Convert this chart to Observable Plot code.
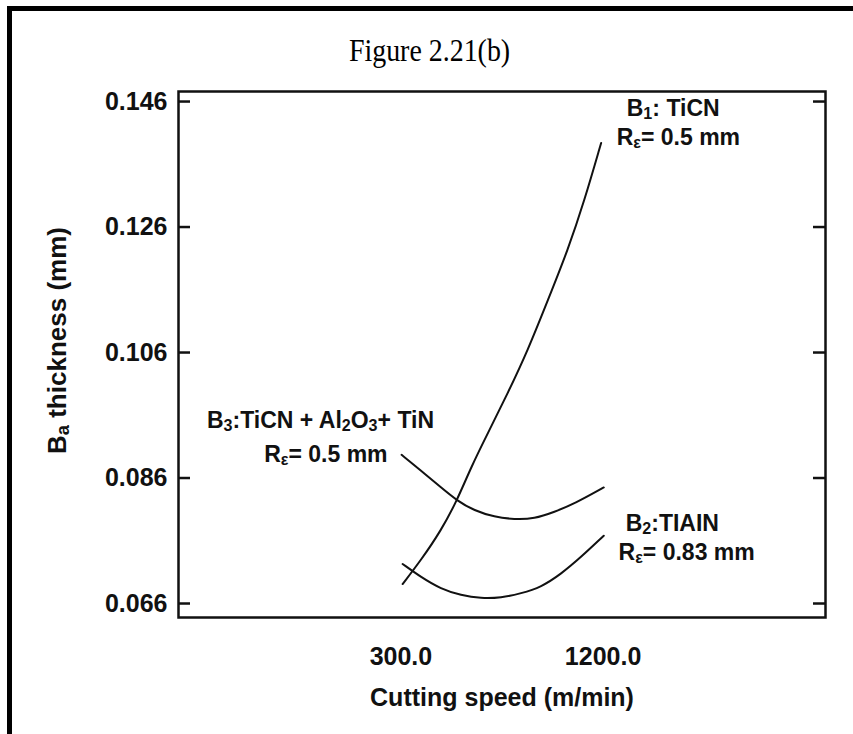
<!DOCTYPE html>
<html><head><meta charset="utf-8">
<script src="https://cdn.jsdelivr.net/npm/d3@7"></script>
<script src="https://cdn.jsdelivr.net/npm/@observablehq/plot@0.6"></script>
<style>
html,body{margin:0;padding:0;background:#fff;overflow:hidden;width:853px;height:734px}
#wrap{position:relative;width:853px;height:734px;overflow:hidden}
#border{position:absolute;left:7px;top:6px;width:900px;height:800px;border-top:5px solid #000;border-left:5px solid #000;pointer-events:none}
#title{height:80px;box-sizing:border-box;padding-top:35px;padding-left:7px;text-align:center;font-family:"Liberation Serif","Times New Roman",serif;font-size:31px;line-height:32px;color:#000}
#title span{display:inline-block;transform:scaleX(0.9)}
#chart svg{display:block}
</style></head>
<body><div id="wrap"><div id="border"></div><div id="title"><span>Figure 2.21(b)</span></div><div id="chart"></div></div>
<script>
// Series B1: TiCN, Rε = 0.5 mm
const speedB1 = [307.6, 389.1, 478.3, 549.6, 611.9, 686.4, 775.5, 864.6, 953.7, 1042.9, 1116.8, 1191.3];
const thickB1 = [0.0691, 0.0729, 0.0776, 0.0824, 0.0877, 0.0931, 0.0995, 0.1063, 0.1143, 0.1223, 0.1302, 0.1394];
// Series B2: TiAlN, Rε = 0.83 mm
const speedB2 = [307.6, 389.1, 478.3, 567.4, 656.5, 745.6, 834.8, 923.9, 1013, 1102.1, 1203];
const thickB2 = [0.0723, 0.0702, 0.0683, 0.0673, 0.0668, 0.0669, 0.0676, 0.0686, 0.0707, 0.0734, 0.0768];
// Series B3: TiCN + Al2O3 + TiN, Rε = 0.5 mm
const speedB3 = [303, 389.1, 478.3, 549.6, 626.6, 715.8, 804.9, 894, 983.2, 1072.3, 1203];
const thickB3 = [0.0897, 0.0872, 0.0845, 0.0824, 0.0808, 0.0798, 0.0794, 0.0795, 0.0806, 0.0819, 0.0845];

const xTicks = [300, 1200];
const yTicks = [0.066, 0.086, 0.106, 0.126, 0.146];

// annotation lines ("_x" marks a subscript character)
const noteText = ["B_1: TiCN", "R_ε= 0.5 mm", "B_2:TIAIN", "R_ε= 0.83 mm", "B_3:TiCN + Al_2O_3+ TiN", "R_ε= 0.5 mm"];
const noteSpeed = [1512, 1535, 1508, 1572, -58, -34];
const noteThick = [0.1449, 0.1403, 0.0788, 0.0741, 0.0952, 0.0897];

const xLabel = "Cutting speed (m/min)";
const yLabel = "B_a thickness (mm)";

const lines = [
  ...speedB1.map((x, i) => ({series: "B1", x, y: thickB1[i]})),
  ...speedB2.map((x, i) => ({series: "B2", x, y: thickB2[i]})),
  ...speedB3.map((x, i) => ({series: "B3", x, y: thickB3[i]}))
];
const notes = noteText.map((t, i) => ({t, x: noteSpeed[i], y: noteThick[i]}));

const W = 853, ML = 178, MR = 28;
const innerW = W - ML - MR;
const tickLen = 12;

const chart = Plot.plot({
  width: W, height: 654,
  marginLeft: ML, marginRight: MR, marginTop: 11, marginBottom: 117,
  x: {domain: [-690, 2190]},
  y: {domain: [0.06377, 0.1476]},
  style: {fontFamily: "'Liberation Sans', Arial, sans-serif", background: "white", color: "#111", fontWeight: "bold"},
  marks: [
    Plot.line(lines, {x: "x", y: "y", z: "series", stroke: "#111", strokeWidth: 2, curve: "basis"}),
    Plot.tickY(yTicks, {y: d => d, insetRight: innerW - tickLen, stroke: "#111", strokeWidth: 2.5}),
    Plot.tickY(yTicks, {y: d => d, insetLeft: innerW - tickLen, stroke: "#111", strokeWidth: 2.5}),
    Plot.frame({stroke: "#111", strokeWidth: 2.5}),
    Plot.axisY({ticks: yTicks, tickSize: 0, tickPadding: 11, tickFormat: d => d.toFixed(3), fontSize: 25, label: null}),
    Plot.axisX({ticks: xTicks, tickSize: 0, tickPadding: 30, tickFormat: d => d.toFixed(1), fontSize: 25, label: null}),
    Plot.text([xLabel], {text: d => d, frameAnchor: "bottom", textAnchor: "middle", lineAnchor: "middle", dy: 80, fontSize: 25}),
    Plot.text([yLabel], {text: d => d, frameAnchor: "left", textAnchor: "middle", lineAnchor: "middle", rotate: -90, dx: -121, dy: -14, fontSize: 26}),
    Plot.text(notes, {x: "x", y: "y", text: "t", fontSize: 23, fill: "#111"})
  ]
});
document.getElementById("chart").appendChild(chart);

// turn "_x" into subscript tspans
const NS = "http://www.w3.org/2000/svg";
chart.querySelectorAll("text").forEach(el => {
  const s = el.textContent;
  if (!s.includes("_") || el.querySelector("tspan")) return;
  const fs = parseFloat(getComputedStyle(el).fontSize) || 23;
  const shift = fs * 0.14;
  el.textContent = "";
  const parts = s.split(/(_.)/).filter(p => p);
  let lowered = false;
  for (const p of parts) {
    const t = document.createElementNS(NS, "tspan");
    if (p.length === 2 && p[0] === "_") {
      t.textContent = p[1];
      t.setAttribute("font-size", (fs * 0.7).toFixed(1));
      if (!lowered) { t.setAttribute("dy", shift.toFixed(1)); lowered = true; }
    } else {
      t.textContent = p;
      if (lowered) { t.setAttribute("dy", (-shift).toFixed(1)); lowered = false; }
    }
    el.appendChild(t);
  }
});
</script>
</body></html>
